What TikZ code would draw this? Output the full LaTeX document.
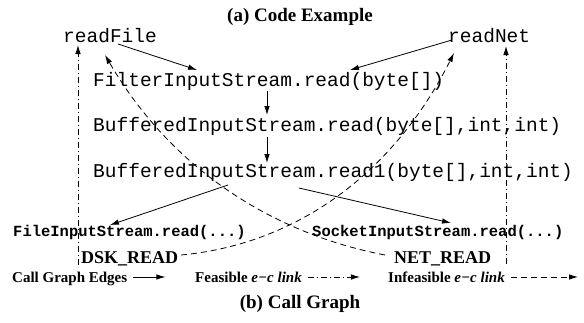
\documentclass[tikz,border=0pt]{standalone}
\usepackage{fontspec}
\setmainfont{Liberation Serif}
\setmonofont{Liberation Mono}
\usetikzlibrary{arrows.meta,calc}
\begin{document}
\begin{tikzpicture}[x=1pt,y=-1pt,
 code/.style={font=\fontsize{19.5}{19.5}\selectfont\ttfamily, inner sep=0pt, anchor=base west},
 bcode/.style={font=\fontsize{15.5}{15.5}\selectfont\ttfamily\bfseries, inner sep=0pt, anchor=base west},
 lbl/.style={font=\fontsize{18}{18}\selectfont\bfseries, inner sep=0pt, anchor=base west},
 leg/.style={font=\fontsize{15}{15}\selectfont\bfseries, inner sep=0pt, anchor=base west},
 ttl/.style={font=\fontsize{19}{19}\selectfont\bfseries, inner sep=0pt, anchor=base},
 call/.style={line width=0.8pt, -{Latex[length=9pt,width=5.5pt]}},
 feas/.style={call, dash pattern=on 6pt off 3pt on 1pt off 3pt},
 infeas/.style={call, dash pattern=on 6pt off 4pt},
]
\useasboundingbox (0,0) rectangle (584,322);

\node[ttl] (ta) at (300,21) {(a) Code Example};
\node[ttl] (tb) at (300,308) {(b) Call Graph};

\node[code] (rf) at (63,42) {readFile};
\node[code] (rn) at (448,42) {readNet};
\node[code] (f1) at (93,86) {FilterInputStream.read(byte[])};
\node[code] (b2) at (93,131) {BufferedInputStream.read(byte[],int,int)};
\node[code] (b3) at (93,177) {BufferedInputStream.read1(byte[],int,int)};
\node[bcode] (fis) at (13,236) {FileInputStream.read(...)};
\node[bcode] (sis) at (312,236) {SocketInputStream.read(...)};
\node[lbl] (dsk) at (81,263) {DSK\_READ};
\node[lbl] (net) at (394,263) {NET\_READ};

% call graph edges
\draw[call] ($(rf.base west)+(55,2)$) -- ($(f1.base west)+(104,-16)$);
\draw[call] ($(rn.base west)+(4,-2)$) -- ($(f1.base west)+(257,-16)$);
\draw[call] ($(f1.base west)+(174,5)$) -- ($(b2.base west)+(174,-16)$);
\draw[call] ($(b2.base west)+(174,6)$) -- ($(b3.base west)+(174,-14)$);
\draw[call] ($(b3.base west)+(135,8)$) -- ($(fis.base west)+(97,-11)$);
\draw[call] ($(b3.base west)+(206,11)$) -- ($(sis.base west)+(139,-13)$);

% feasible links
\draw[feas] ($(dsk.base west)+(-3,2)$) -- ($(rf.base west)+(15,3)$);
\draw[feas] ($(net.base west)+(112,1)$) -- ($(rn.base west)+(58,4)$);

% infeasible links
\draw[infeas] ($(dsk.base west)+(100,-8)$) .. controls (290,245) and (390,180) .. ($(rn.base west)+(6,11)$);
\draw[infeas] ($(net.base west)+(-9,-8)$) .. controls (280,235) and (175,175) .. ($(rf.base west)+(42,13)$);

% legend
\node[leg] (l1) at (12,282) {Call Graph Edges};
\coordinate (l1a) at ($(l1.base east)+(6,-5)$);
\coordinate (l1b) at ($(l1a)+(32,0)$);
\draw[call] (l1a) -- (l1b);
\node[leg] (l2) at (195,282) {Feasible \textit{e−c link}};
\coordinate (l2a) at ($(l2.base east)+(6,-5)$);
\coordinate (l2b) at ($(l2a)+(52,0)$);
\draw[feas] (l2a) -- (l2b);
\node[leg] (l3) at (388,282) {Infeasible \textit{e−c link}};
\coordinate (l3a) at ($(l3.base east)+(6,-5)$);
\coordinate (l3b) at (578,277);
\draw[infeas] (l3a) -- (l3b);
\end{tikzpicture}
\end{document}
